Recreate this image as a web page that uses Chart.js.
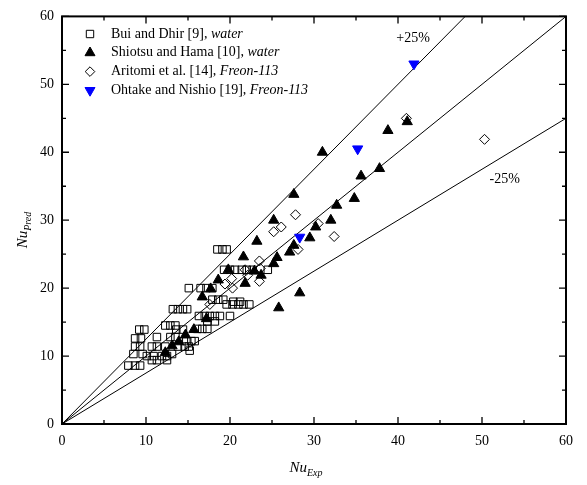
<!DOCTYPE html>
<html>
<head>
<meta charset="utf-8">
<script src="https://cdn.jsdelivr.net/npm/chart.js@4.4.1/dist/chart.umd.min.js"></script>
<style>
  html, body { margin: 0; padding: 0; background: #fff; }
</style>
</head>
<body>
<canvas id="chart" width="587" height="485"></canvas>
<script>
// Nu_Exp vs Nu_Pred, one [x, y] pair per marker
var buiDhir = [
    [18.5, 25.7], [19.1, 25.7], [19.6, 25.7],
    [19.3, 22.7], [20.0, 22.7], [20.6, 22.7], [21.4, 22.7], [22.0, 22.7], [22.7, 22.7], [24.5, 22.7],
    [15.1, 20.0], [16.5, 20.0], [17.2, 20.0], [17.9, 20.0],
    [17.9, 18.3], [18.6, 18.3], [19.2, 18.3],
    [20.4, 18.0], [21.2, 18.0],
    [19.6, 17.6], [20.3, 17.6], [21.0, 17.6], [21.6, 17.6], [22.3, 17.6],
    [13.2, 16.9], [13.8, 16.9], [14.4, 16.9], [14.9, 16.9],
    [16.3, 15.9], [17.0, 15.9], [17.6, 15.9], [18.2, 15.9], [18.8, 15.9], [20.0, 15.9],
    [17.3, 15.1], [18.2, 15.1],
    [12.3, 14.5], [12.9, 14.5], [13.5, 14.5],
    [16.1, 14.0], [16.7, 14.0], [17.3, 14.0],
    [9.2, 13.9], [9.8, 13.9], [13.6, 13.9], [14.4, 13.9],
    [11.3, 12.8], [12.9, 12.8], [13.5, 12.8],
    [8.7, 12.6], [9.4, 12.6],
    [14.8, 12.2], [15.4, 12.2], [15.8, 12.2],
    [8.7, 11.4], [9.3, 11.4], [10.7, 11.4], [11.3, 11.4], [12.3, 11.4], [13.8, 11.4], [14.6, 11.4], [15.1, 11.4],
    [15.2, 10.8],
    [8.5, 10.3], [9.6, 10.3], [13.1, 10.3],
    [10.1, 10.0], [10.9, 10.0], [11.9, 10.0], [12.5, 10.0],
    [10.7, 9.4], [11.3, 9.4], [12.5, 9.4],
    [7.9, 8.6], [8.7, 8.6], [9.3, 8.6]
];
var shiotsuHama = [
    [12.3, 10.5], [13.1, 11.5], [13.9, 12.1], [14.7, 13.1], [15.7, 13.9], [17.2, 15.5],
    [16.7, 18.7], [17.7, 19.9], [18.6, 21.2], [19.8, 22.7], [21.8, 20.7], [21.6, 24.6],
    [23.2, 26.9], [22.9, 22.5], [23.7, 21.9], [25.2, 23.6], [25.6, 24.5], [25.2, 30.0],
    [27.6, 33.8], [27.1, 25.3], [27.6, 26.3], [25.8, 17.1], [28.3, 19.3], [29.5, 27.4],
    [30.2, 29.0], [32.0, 30.0], [32.7, 32.2], [31.0, 40.0], [34.8, 33.2], [35.6, 36.5],
    [37.8, 37.6], [38.8, 43.2], [41.1, 44.5]
];
var aritomi = [
    [17.6, 17.6], [19.4, 20.6], [20.2, 21.4], [20.3, 20.0], [21.8, 22.7], [22.1, 21.9],
    [23.5, 21.0], [23.6, 22.9], [23.5, 24.0], [25.2, 28.3], [26.1, 29.0], [27.8, 30.8],
    [28.1, 25.7], [30.5, 29.5], [32.4, 27.6], [41.0, 45.0], [50.3, 41.9]
];
var ohtakeNishio = [[28.3, 27.5], [35.2, 40.5], [41.9, 53.0]];

// reference lines: perfect agreement and +/-25 %
var lineExact = [[0, 0], [60, 60]];
var linePlus25 = [[0, 0], [48, 60]];
var lineMinus25 = [[0, 0], [60, 45]];
var lineLabels = [["+25%", 41.8, 56.8], ["-25%", 52.7, 36.0]];

var axisTicks = [0, 10, 20, 30, 40, 50, 60];

var legendRows = [
    ["Bui and Dhir [9], ", "water", "rect", "#000000", false],
    ["Shiotsu and Hama [10], ", "water", "triangle", "#000000", true],
    ["Aritomi et al. [14], ", "Freon-113", "rectRot", "#000000", false],
    ["Ohtake and Nishio [19], ", "Freon-113", "triangleDown", "#0000ff", true]
];

var SERIF = "'Liberation Serif', 'Times New Roman', serif";

function pts(arr) {
    return arr.map(function (p) { return {x: p[0], y: p[1]}; });
}

function marker(ctx, style, color, filled, x, y) {
    ctx.save();
    ctx.beginPath();
    if (style === 'rect') {
        ctx.rect(x - 3.7, y - 3.7, 7.4, 7.4);
    } else if (style === 'rectRot') {
        ctx.moveTo(x, y - 4.8); ctx.lineTo(x + 4.8, y); ctx.lineTo(x, y + 4.8); ctx.lineTo(x - 4.8, y);
        ctx.closePath();
    } else if (style === 'triangle') {
        ctx.moveTo(x, y - 5.8); ctx.lineTo(x + 5, y + 2.9); ctx.lineTo(x - 5, y + 2.9);
        ctx.closePath();
    } else {
        ctx.moveTo(x, y + 5.8); ctx.lineTo(x + 5, y - 2.9); ctx.lineTo(x - 5, y - 2.9);
        ctx.closePath();
    }
    ctx.lineWidth = 1;
    ctx.strokeStyle = color;
    if (filled) { ctx.fillStyle = color; ctx.fill(); }
    ctx.stroke();
    ctx.restore();
}

var decorations = {
    id: 'decorations',
    afterDatasetsDraw: function (chart) {
        var ctx = chart.ctx;
        var a = chart.chartArea;
        var xs = chart.scales.x, ys = chart.scales.y;
        ctx.save();

        // frame
        ctx.strokeStyle = '#000';
        ctx.lineWidth = 2;
        ctx.strokeRect(a.left, a.top, a.right - a.left, a.bottom - a.top);

        // inward ticks on all four sides
        ctx.lineWidth = 1.3;
        ctx.beginPath();
        for (var v = 0; v <= 60; v += 5) {
            var len = v % 10 === 0 ? 7 : 4;
            var px = xs.getPixelForValue(v);
            var py = ys.getPixelForValue(v);
            ctx.moveTo(px, a.bottom); ctx.lineTo(px, a.bottom - len);
            ctx.moveTo(px, a.top); ctx.lineTo(px, a.top + len);
            ctx.moveTo(a.left, py); ctx.lineTo(a.left + len, py);
            ctx.moveTo(a.right, py); ctx.lineTo(a.right - len, py);
        }
        ctx.stroke();

        // +/-25% labels
        ctx.fillStyle = '#000';
        ctx.font = '14px ' + SERIF;
        ctx.textAlign = 'center';
        ctx.textBaseline = 'middle';
        lineLabels.forEach(function (l) {
            ctx.fillText(l[0], xs.getPixelForValue(l[1]), ys.getPixelForValue(l[2]));
        });

        // legend
        ctx.textAlign = 'left';
        legendRows.forEach(function (row, i) {
            var y = 34 + i * 18.8;
            marker(ctx, row[2], row[3], row[4], 90, y);
            ctx.fillStyle = '#000';
            ctx.font = '14px ' + SERIF;
            ctx.fillText(row[0], 111, y);
            var w = ctx.measureText(row[0]).width;
            ctx.font = 'italic 14px ' + SERIF;
            ctx.fillText(row[1], 111 + w, y);
        });

        // axis titles with subscripts
        ctx.textBaseline = 'alphabetic';
        ctx.font = 'italic 15px ' + SERIF;
        var nuW = ctx.measureText('Nu').width;
        ctx.font = 'italic 10px ' + SERIF;
        var expW = ctx.measureText('Exp').width;
        var x0 = 306 - (nuW + expW) / 2;
        ctx.font = 'italic 15px ' + SERIF;
        ctx.fillText('Nu', x0, 472);
        ctx.font = 'italic 10px ' + SERIF;
        ctx.fillText('Exp', x0 + nuW, 476);

        ctx.translate(27, 230);
        ctx.rotate(-Math.PI / 2);
        ctx.font = 'italic 10px ' + SERIF;
        var predW = ctx.measureText('Pred').width;
        var y0 = -(nuW + predW) / 2;
        ctx.font = 'italic 15px ' + SERIF;
        ctx.fillText('Nu', y0, 0);
        ctx.font = 'italic 10px ' + SERIF;
        ctx.fillText('Pred', y0 + nuW, 4);

        ctx.restore();
    }
};

function refLine(arr) {
    return {
        type: 'line',
        data: pts(arr),
        borderColor: '#000',
        borderWidth: 1,
        pointRadius: 0,
        fill: false,
        order: 10
    };
}

var ctx1 = document.getElementById('chart').getContext('2d');
var myChart = new Chart(ctx1, {
    type: 'scatter',
    data: {
        datasets: [
            {
                label: 'Bui and Dhir [9], water',
                data: pts(buiDhir),
                pointStyle: 'rect',
                pointRadius: 5.3,
                borderColor: '#000',
                backgroundColor: 'rgba(0,0,0,0)',
                borderWidth: 1,
                order: 4
            },
            {
                label: 'Shiotsu and Hama [10], water',
                data: pts(shiotsuHama),
                pointStyle: 'triangle',
                pointRadius: 5.9,
                borderColor: '#000',
                backgroundColor: '#000',
                borderWidth: 1,
                order: 3
            },
            {
                label: 'Aritomi et al. [14], Freon-113',
                data: pts(aritomi),
                pointStyle: 'rectRot',
                pointRadius: 5,
                borderColor: '#000',
                backgroundColor: 'rgba(0,0,0,0)',
                borderWidth: 1,
                order: 2
            },
            {
                label: 'Ohtake and Nishio [19], Freon-113',
                data: pts(ohtakeNishio),
                pointStyle: 'triangle',
                rotation: 180,
                pointRadius: 5.9,
                borderColor: '#0000ff',
                backgroundColor: '#0000ff',
                borderWidth: 1,
                order: 1
            },
            refLine(lineExact),
            refLine(linePlus25),
            refLine(lineMinus25)
        ]
    },
    options: {
        responsive: false,
        animation: false,
        layout: {padding: {top: 12, right: 21, left: 0, bottom: 0}},
        plugins: {
            legend: {display: false},
            tooltip: {enabled: false}
        },
        scales: {
            x: {
                type: 'linear',
                min: 0,
                max: 60,
                afterFit: function (s) { s.height = 61; },
                afterBuildTicks: function (s) { s.ticks = axisTicks.map(function (v) { return {value: v}; }); },
                grid: {display: false, drawTicks: false},
                border: {display: false},
                ticks: {
                    color: '#000',
                    padding: 9,
                    maxRotation: 0,
                    font: {family: SERIF, size: 14}
                }
            },
            y: {
                type: 'linear',
                min: 0,
                max: 60,
                afterFit: function (s) { s.width = 62; },
                afterBuildTicks: function (s) { s.ticks = axisTicks.map(function (v) { return {value: v}; }); },
                grid: {display: false, drawTicks: false},
                border: {display: false},
                ticks: {
                    color: '#000',
                    padding: 8,
                    font: {family: SERIF, size: 14}
                }
            }
        }
    },
    plugins: [decorations]
});
</script>
</body>
</html>
